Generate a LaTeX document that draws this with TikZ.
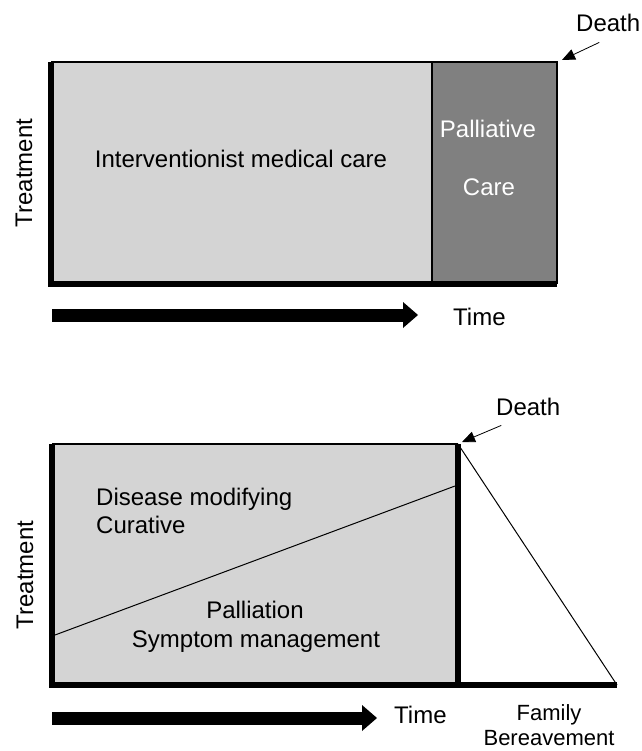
\documentclass[tikz,border=0pt]{standalone}
\usepackage{fontspec}
\setmainfont{Liberation Sans}
\usetikzlibrary{arrows.meta}

\definecolor{carelight}{gray}{0.83}
\definecolor{caredark}{gray}{0.5}

\tikzset{
  lbl/.style={font=\fontsize{24}{28}\selectfont, inner sep=0pt},
  smalllbl/.style={font=\fontsize{22}{26}\selectfont, inner sep=0pt},
  axisline/.style={line width=6pt, line join=miter},
  timearrow/.style={line width=13pt, -{Triangle[length=15pt,width=26pt,line width=0pt]}},
  deatharrow/.style={line width=0.8pt, -{Triangle[length=13pt,width=11pt]}},
}

\begin{document}
\begin{tikzpicture}[x=1pt,y=-1pt]
   \useasboundingbox (0,0) rectangle (641,751);

   % upper chart
   \fill[carelight] (51,62) rectangle (432,284);
   \fill[caredark] (432,62) rectangle (557,284);
   \draw[line width=2pt] (51,62) -- (557,62) -- (557,284);
   \draw[line width=1.5pt] (432,62) -- (432,284);
   \draw[axisline] (51,62) -- (51,284) -- (557,284);
   \coordinate (endtop) at (562,60);
   \coordinate (timetopstart) at (52,315);
   \coordinate (timetopend) at (418,315);

   \node[lbl, anchor=base] (treattop) at (32,173) [rotate=90] {Treatment};
   \node[lbl, anchor=base] (medcare) at (241,168) {Interventionist medical care};
   \node[lbl, anchor=base, white] (palliative) at (488,138) {Palliative};
   \node[lbl, anchor=base, white] (caretop) at (489,196) {Care};
   \node[lbl, anchor=base west] (deathtop) at (576,32) {Death};
   \node[lbl, anchor=base west] (timetop) at (453,325) {Time};

   \draw[deatharrow] ([xshift=-9pt,yshift=-10pt]deathtop.south) -- (endtop);
   \draw[timearrow] (timetopstart) -- (timetopend);

   % lower chart
   \fill[carelight] (52,444) rectangle (458,685);
   \draw[line width=2pt] (52,444) -- (458,444);
   \draw[line width=1pt] (55,635) -- (455,486);
   \draw[line width=1pt] (458,444) -- (617,685);
   \draw[axisline] (52,444) -- (52,685) -- (617,685);
   \draw[axisline] (458,444) -- (458,685);
   \coordinate (endbot) at (462,442);
   \coordinate (timebotstart) at (52,718);
   \coordinate (timebotend) at (377,718);

   \node[lbl, anchor=base] (treatbot) at (33,575) [rotate=90] {Treatment};
   \node[lbl, anchor=base west] (disease) at (96,505) {Disease modifying};
   \node[lbl, anchor=base west] (curative) at (96,533) {Curative};
   \node[lbl, anchor=base] (palliation) at (255,618) {Palliation};
   \node[lbl, anchor=base] (symptom) at (256,647) {Symptom management};
   \node[lbl, anchor=base west] (deathbot) at (496,415) {Death};
   \node[lbl, anchor=base west] (timebot) at (394,723) {Time};
   \node[smalllbl, anchor=base] (family) at (549,720) {Family};
   \node[smalllbl, anchor=base] (bereave) at (549,745) {Bereavement};

   \draw[deatharrow] ([xshift=-27pt,yshift=-10pt]deathbot.south) -- (endbot);
   \draw[timearrow] (timebotstart) -- (timebotend);
\end{tikzpicture}
\end{document}
